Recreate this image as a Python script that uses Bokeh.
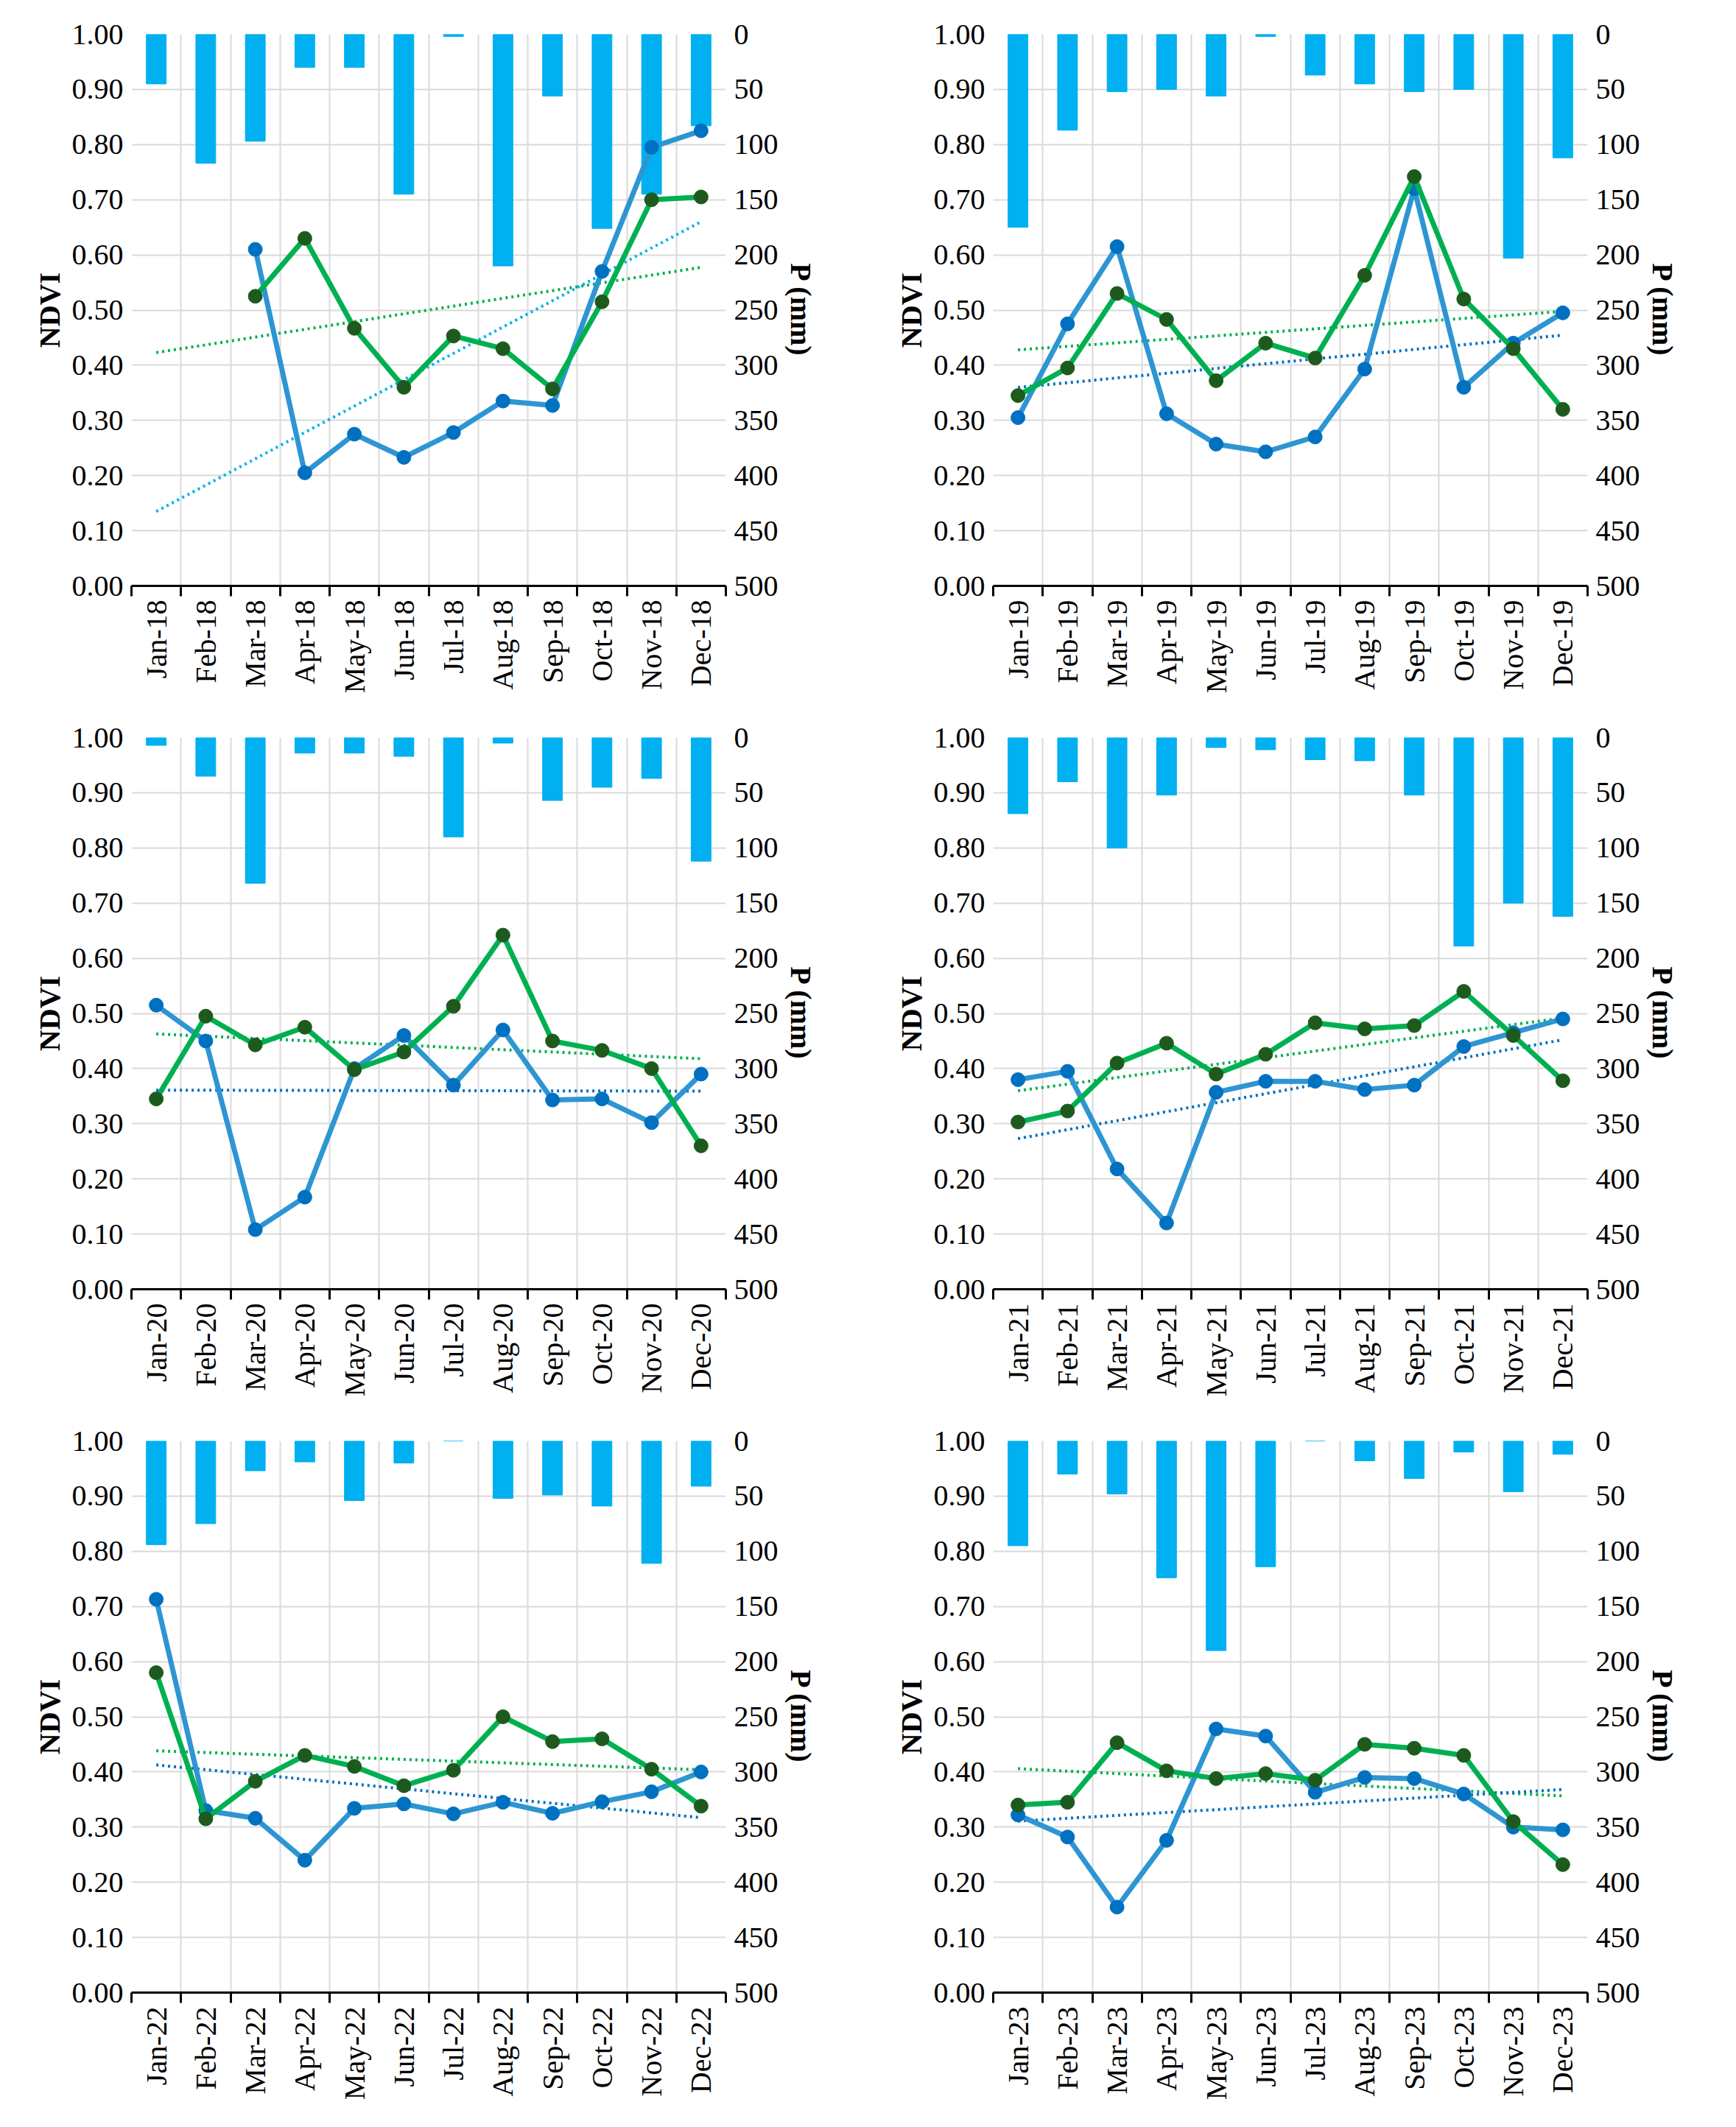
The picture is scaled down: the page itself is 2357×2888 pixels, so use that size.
import numpy as np
from bokeh.plotting import figure
from bokeh.layouts import gridplot
from bokeh.models import Range1d, LinearAxis, FixedTicker, NumeralTickFormatter
from bokeh.embed import file_html
from bokeh.resources import INLINE

months = ["Jan", "Feb", "Mar", "Apr", "May", "Jun", "Jul", "Aug", "Sep", "Oct", "Nov", "Dec"]
years = ["18", "19", "20", "21", "22", "23"]
nan = float("nan")

p2018 = [45, 117, 97, 30, 30, 145, 2, 210, 56, 176, 145, 83]
p2019 = [175, 87, 52, 50, 56, 2, 37, 45, 52, 50, 203, 112]
p2020 = [7, 35, 132, 14, 14, 17, 90, 5, 57, 45, 37, 112]
p2021 = [69, 40, 100, 52, 9, 11, 20, 21, 52, 189, 150, 162]
p2022 = [94, 75, 27, 19, 54, 20, 0, 52, 49, 59, 111, 41]
p2023 = [95, 30, 48, 124, 190, 114, 0, 18, 34, 10, 46, 12]

blue2018 = [nan, nan, .61, .205, .275, .233, .278, .335, .327, .57, .795, .825]
blue2019 = [.305, .475, .615, .312, .257, .243, .27, .393, .72, .36, .44, .495]
blue2020 = [.515, .45, .108, .167, .4, .46, .37, .47, .343, .345, .302, .39]
blue2021 = [.38, .395, .218, .12, .357, .377, .377, .362, .37, .44, .465, .49]
blue2022 = [.713, .33, .316, .24, .334, .342, .324, .345, .325, .346, .364, .4]
blue2023 = [.322, .282, .155, .276, .478, .465, .363, .39, .388, .36, .3, .295]

green2018 = [nan, nan, .525, .63, .467, .36, .453, .43, .357, .515, .70, .705]
green2019 = [.345, .395, .53, .483, .372, .44, .413, .563, .742, .52, .43, .32]
green2020 = [.345, .495, .443, .475, .398, .43, .513, .642, .45, .433, .4, .26]
green2021 = [.303, .323, .41, .446, .39, .426, .483, .472, .478, .54, .46, .378]
green2022 = [.58, .315, .383, .43, .41, .375, .403, .5, .455, .46, .405, .338]
green2023 = [.34, .345, .453, .402, .388, .397, .385, .45, .443, .43, .31, .232]

P = [p2018, p2019, p2020, p2021, p2022, p2023]
B = [blue2018, blue2019, blue2020, blue2021, blue2022, blue2023]
G = [green2018, green2019, green2020, green2021, green2022, green2023]

FONT = "Liberation Serif"
x = np.arange(1, 13)

def trend(vals):
    v = np.array(vals, dtype=float)
    m = ~np.isnan(v)
    k, b = np.polyfit(x[m], v[m], 1)
    return [1, 12], [k * 1 + b, k * 12 + b]

def panel(i):
    p = figure(width=1170, height=955, x_range=Range1d(0.5, 12.5), y_range=Range1d(0, 1),
               output_backend="svg", toolbar_location=None,
               min_border_left=178, min_border_right=185, min_border_top=46, min_border_bottom=160)
    p.outline_line_color = None
    p.extra_y_ranges = {"p": Range1d(500, 0)}
    labels = [f"{m}-{years[i]}" for m in months]
    p.vbar(x=x, top=0, bottom=P[i], width=0.4, color="#00B0F0", y_range_name="p")
    tx, ty = trend(G[i])
    p.line(tx, ty, line_color="#00B050", line_width=4, line_dash="3 5")
    tx, ty = trend(B[i])
    p.line(tx, ty, line_color="#00B0F0" if i == 0 else "#0070C0", line_width=4, line_dash="3 5")
    bx = [xx for xx, v in zip(x, B[i]) if not np.isnan(v)]
    by = [v for v in B[i] if not np.isnan(v)]
    p.line(bx, by, line_color="#2E95D3", line_width=7)
    p.scatter(bx, by, size=19, color="#0070C0")
    gx = [xx for xx, v in zip(x, G[i]) if not np.isnan(v)]
    gy = [v for v in G[i] if not np.isnan(v)]
    p.line(gx, gy, line_color="#00B050", line_width=7)
    p.scatter(gx, gy, size=19, color="#1E5A1E")

    p.xaxis.ticker = FixedTicker(ticks=list(x), minor_ticks=list(np.arange(0.5, 13, 1)))
    p.xaxis.major_label_overrides = {int(k): l for k, l in zip(x, labels)}
    p.xaxis.major_label_orientation = np.pi / 2
    p.xaxis.major_tick_line_color = None
    p.xaxis.minor_tick_out = 14
    p.xaxis.minor_tick_in = 0
    p.xaxis.minor_tick_line_color = "black"
    p.xaxis.minor_tick_line_width = 3
    p.xaxis.axis_line_width = 3
    p.xgrid.ticker = FixedTicker(ticks=list(np.arange(0.5, 13, 1)))
    p.ygrid.ticker = FixedTicker(ticks=list(np.round(np.arange(0, 1.01, 0.1), 2)))
    for g in (p.xgrid, p.ygrid):
        g.grid_line_color = "#D9D9D9"
        g.grid_line_width = 2
    p.yaxis.ticker = FixedTicker(ticks=list(np.round(np.arange(0, 1.01, 0.1), 2)))
    p.yaxis.formatter = NumeralTickFormatter(format="0.00")
    p.yaxis.axis_label = "NDVI"
    p.yaxis.axis_line_color = None
    p.yaxis.major_tick_line_color = None
    p.yaxis.minor_tick_line_color = None
    ra = LinearAxis(y_range_name="p", ticker=FixedTicker(ticks=list(range(0, 501, 50))),
                    axis_label="P (mm)")
    ra.axis_line_color = None
    ra.major_tick_line_color = None
    ra.minor_tick_line_color = None
    p.add_layout(ra, "right")
    for ax in (p.xaxis[0], p.yaxis[0], ra):
        ax.major_label_text_font = FONT
        ax.major_label_text_font_size = "40px"
        ax.major_label_text_color = "black"
        ax.axis_label_text_font = FONT
        ax.axis_label_text_font_size = "40px"
        ax.axis_label_text_font_style = "bold"
        ax.axis_label_text_color = "black"
    return p

figs = [panel(i) for i in range(6)]
grid = gridplot(figs, ncols=2, toolbar_location=None)
open("out.html", "w").write(file_html(grid, INLINE))
